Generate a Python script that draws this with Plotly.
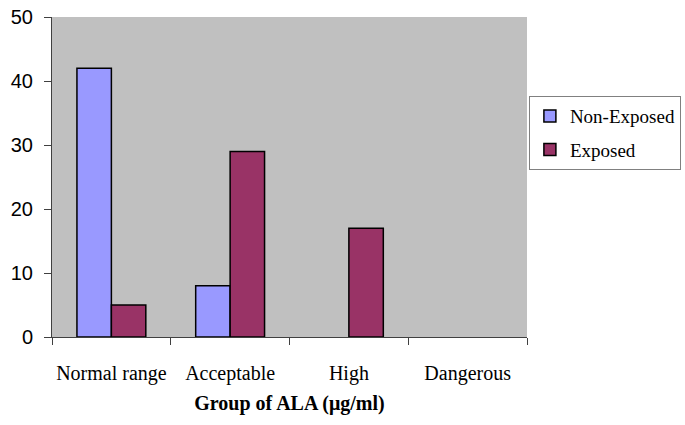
import plotly.graph_objects as go

categories = ["Normal range", "Acceptable", "High", "Dangerous"]
non_exposed = [42, 8, 0, 0]
exposed = [5, 29, 17, 0]
y_ticks = [0, 10, 20, 30, 40, 50]


def hide_zero(vals):
    return [v if v else None for v in vals]


fig = go.Figure()
fig.add_trace(go.Bar(x=categories, y=hide_zero(non_exposed), name="Non-Exposed",
                     legendgroup="a",
                     marker=dict(color="#9999FF", line=dict(color="black", width=1.5))))
fig.add_trace(go.Bar(x=categories, y=hide_zero(exposed), name="Exposed",
                     legendgroup="b",
                     marker=dict(color="#993366", line=dict(color="black", width=1.5))))

fig.update_layout(
    width=685, height=425,
    margin=dict(l=52, r=158, t=17, b=88, autoexpand=False),
    plot_bgcolor="#C0C0C0",
    paper_bgcolor="white",
    barmode="group",
    bargap=0.42, bargroupgap=0,
    legend=dict(x=1.004, y=0.753, xanchor="left", yanchor="top",
                bgcolor="white", bordercolor="#808080", borderwidth=1,
                font=dict(family="Liberation Serif", size=19, color="black"),
                traceorder="grouped", tracegroupgap=6, itemwidth=30),
    xaxis=dict(
        automargin=False,
        showline=True, linecolor="#404040", linewidth=1,
        ticks="outside", ticklen=7, tickcolor="#404040", tickson="boundaries",
        tickangle=0,
        tickfont=dict(family="Liberation Serif", size=20, color="black"),
        ticklabelstandoff=18,
        title=dict(text="<b>Group of ALA (μg/ml)</b>",
                   font=dict(family="Liberation Serif", size=20, color="black"),
                   standoff=11),
        showgrid=False,
    ),
    yaxis=dict(
        automargin=False,
        range=[0, 50], tickvals=y_ticks, ticktext=[str(v) for v in y_ticks],
        showline=True, linecolor="#404040", linewidth=1,
        ticks="outside", ticklen=7, tickcolor="#404040",
        tickfont=dict(family="Liberation Sans", size=20, color="black"),
        ticklabelstandoff=7, ticklabeloverflow="allow",
        showgrid=False, zeroline=False,
    ),
)

fig.write_html("out.html", config={"displayModeBar": False},
               post_script="document.body.style.margin='0';")
